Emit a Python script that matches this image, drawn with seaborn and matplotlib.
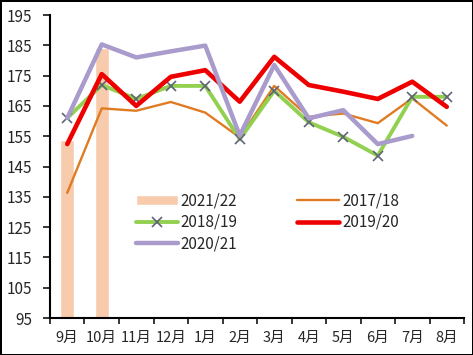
import numpy as np
import pandas as pd
import matplotlib
matplotlib.use('Agg')
import matplotlib.pyplot as plt
import seaborn as sns

# months on the x axis
months = ['9月', '10月', '11月', '12月', '1月', '2月', '3月', '4月', '5月', '6月', '7月', '8月']

# 2021/22 only has the first two months (bars)
s2122 = [153.8, 184.0, np.nan, np.nan, np.nan, np.nan, np.nan, np.nan, np.nan, np.nan, np.nan, np.nan]
s1718 = [136.3, 164.2, 163.4, 166.3, 162.8, 154.6, 171.6, 161.4, 162.5, 159.3, 167.5, 158.5]
s1819 = [161.0, 171.9, 167.3, 171.6, 171.6, 154.0, 170.0, 159.6, 154.8, 148.6, 168.0, 168.0]
s1920 = [152.4, 175.5, 165.0, 174.6, 176.8, 166.4, 181.2, 171.9, 169.7, 167.3, 173.0, 164.7]
s2021 = [161.0, 185.3, 181.0, 183.0, 184.9, 155.2, 178.5, 160.9, 163.6, 152.4, 155.1, np.nan]

pos = np.arange(len(months))

sns.set_style('ticks')
plt.rcParams['font.family'] = ['Noto Sans CJK SC', 'DejaVu Sans']

fig = plt.figure(figsize=(4.73, 3.55), dpi=100, edgecolor='black', linewidth=2)
ax = fig.add_axes([0.1057, 0.1042, 0.8753, 0.8535])

# bars for the current season
sns.barplot(x=pos, y=s2122, native_scale=True, width=0.4, color='#F8CBAD',
            saturation=1, label='2021/22', ax=ax)

# lines for previous seasons
sns.lineplot(x=pos, y=s1718, color='#E07B22', linewidth=1.7, label='2017/18', ax=ax)
sns.lineplot(x=pos, y=s1819, color='#92D050', linewidth=2.8, marker='x', markersize=7,
             markeredgecolor='#5F6478', markeredgewidth=1.2, label='2018/19', ax=ax)
sns.lineplot(x=pos, y=s1920, color='#EE0000', linewidth=3.3, label='2019/20', ax=ax)
sns.lineplot(x=pos, y=s2021, color='#A99BCB', linewidth=3.2, label='2020/21', ax=ax)

ax.set_xlim(-0.5, 11.5)
ax.set_ylim(95, 195)
ax.set_yticks(np.arange(95, 196, 10))
ax.set_xticks(pos)
ax.set_xticklabels(months)
ax.set_xticks(np.arange(-0.5, 12, 1), minor=True)
ax.tick_params(axis='x', which='major', length=0, pad=9, labelsize=10.5)
ax.tick_params(axis='x', which='minor', length=4, width=1.3, direction='out')
ax.tick_params(axis='y', length=5, width=1.3, direction='out', pad=8, labelsize=11)
ax.set_xlabel('')
ax.set_ylabel('')
for side in ['top', 'right']:
    ax.spines[side].set_visible(False)
for side in ['left', 'bottom']:
    ax.spines[side].set_linewidth(1.5)
    ax.spines[side].set_color('black')

# legend in two columns
handles, labels = ax.get_legend_handles_labels()
lookup = dict(zip(labels, handles))
order = ['2021/22', '2018/19', '2020/21', '2017/18', '2019/20']
ax.legend([lookup[k] for k in order], order, ncol=2, frameon=False,
          loc='upper left', bbox_to_anchor=(0.207, 0.415), borderaxespad=0, borderpad=0,
          handlelength=2.75, handletextpad=0.2, columnspacing=3.9, labelspacing=0.3,
          fontsize=11)

fig.savefig('out.png', dpi=100, edgecolor=fig.get_edgecolor())
